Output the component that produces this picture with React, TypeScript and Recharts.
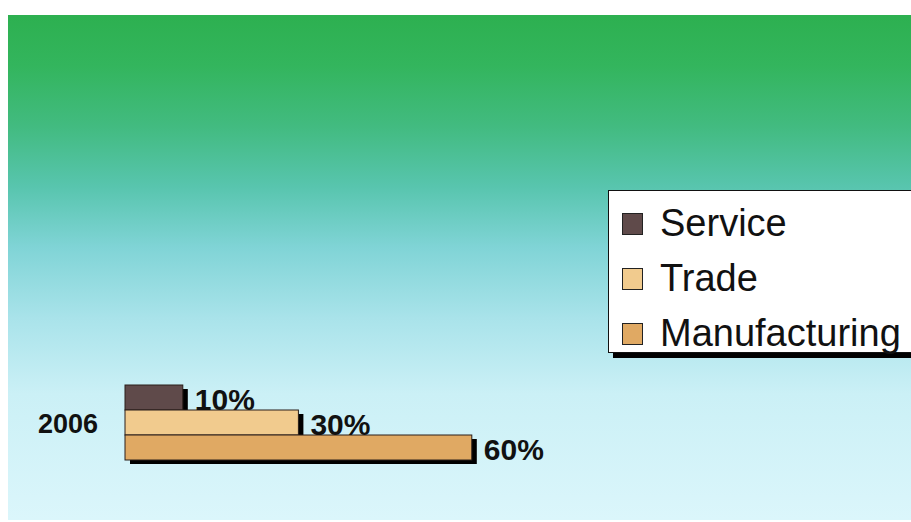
import React from "react";
import { BarChart, Bar, XAxis, YAxis, Legend, LabelList } from "recharts";

const years = ["2006"];
const service = [10];
const trade = [30];
const manufacturing = [60];

const seriesNames = ["Service", "Trade", "Manufacturing"];
const seriesKeys = ["service", "trade", "manufacturing"];
const seriesColors = ["#5f4a4a", "#f1cb8e", "#e0a963"];

const chartData = years.map((year, i) => ({
  year,
  service: service[i],
  trade: trade[i],
  manufacturing: manufacturing[i],
}));

const font = "'Liberation Sans', Arial, sans-serif";

const ShadowBar = (props: any) => {
  const { x, y, width, height, fill } = props;
  if (width == null || width <= 0) return null;
  return (
    <g>
      <rect x={x + 5} y={y + 4} width={width} height={height} fill="#000" />
      <rect
        x={x}
        y={y}
        width={width}
        height={height}
        fill={fill}
        stroke="#2a1e1a"
        strokeWidth={1}
      />
    </g>
  );
};

const PercentLabel = (props: any) => {
  const { x, y, width, height, value } = props;
  return (
    <text
      x={x + width + 12}
      y={y + height / 2 + 2}
      dominantBaseline="central"
      fontFamily={font}
      fontWeight="bold"
      fontSize={30}
      fill="#111"
    >
      {value}%
    </text>
  );
};

const LegendBox = (props: any) => {
  // keep the series order (Recharts sorts legend items by name)
  const items = [...(props.payload || [])].sort(
    (a: any, b: any) => seriesNames.indexOf(a.value) - seriesNames.indexOf(b.value)
  );
  return (
    <div
      style={{
        width: 310,
        height: 163,
        boxSizing: "border-box",
        background: "#fff",
        border: "1.5px solid #111",
        boxShadow: "5px 5px 0 #000",
        paddingTop: 5,
        fontFamily: font,
      }}
    >
      {items.map((entry: any) => (
        <div
          key={entry.value}
          style={{
            height: 55,
            display: "flex",
            alignItems: "center",
            fontSize: 38,
            color: "#111",
            whiteSpace: "nowrap",
          }}
        >
          <span
            style={{
              display: "inline-block",
              width: 21,
              height: 22,
              marginLeft: 13,
              marginRight: 17,
              background: entry.color,
              border: "1.5px solid #222",
              boxSizing: "border-box",
            }}
          />
          {entry.value}
        </div>
      ))}
    </div>
  );
};

export default function App() {
  return (
    <div
      style={{
        position: "absolute",
        left: 0,
        top: 0,
        width: 911,
        height: 522,
        overflow: "hidden",
        background: "#fff",
      }}
    >
      <div
        style={{
          position: "absolute",
          left: 8,
          top: 15,
          width: 903,
          height: 505,
          background:
            "linear-gradient(to bottom, #2db050 0%, #33b55d 10%, #42bb80 22%, #58c5ae 34%, #80d4d6 46%, #a9e3ea 60%, #cbf0f6 75%, #dbf6fb 100%)",
        }}
      />
      <div style={{ position: "absolute", left: 0, top: 0 }}>
        <BarChart
          width={911}
          height={522}
          data={chartData}
          layout="vertical"
          margin={{ top: 385, right: 208, bottom: 61, left: 0 }}
          barCategoryGap={0}
          barGap={0}
        >
          <XAxis type="number" domain={[0, 100]} hide />
          <YAxis
            type="category"
            dataKey="year"
            width={125}
            axisLine={false}
            tickLine={false}
            tickSize={0}
            tickMargin={27}
            tick={{ fontFamily: font, fontWeight: "bold", fontSize: 27, fill: "#111" }}
          />
          <Legend
            layout="horizontal"
            align="center"
            verticalAlign="middle"
            content={<LegendBox />}
            wrapperStyle={{ left: 608, top: 190, width: 310 }}
          />
          {seriesKeys.map((key, i) => (
            <Bar
              key={key}
              dataKey={key}
              name={seriesNames[i]}
              fill={seriesColors[i]}
              shape={<ShadowBar />}
              isAnimationActive={false}
            >
              <LabelList dataKey={key} content={<PercentLabel />} />
            </Bar>
          ))}
        </BarChart>
      </div>
    </div>
  );
}
